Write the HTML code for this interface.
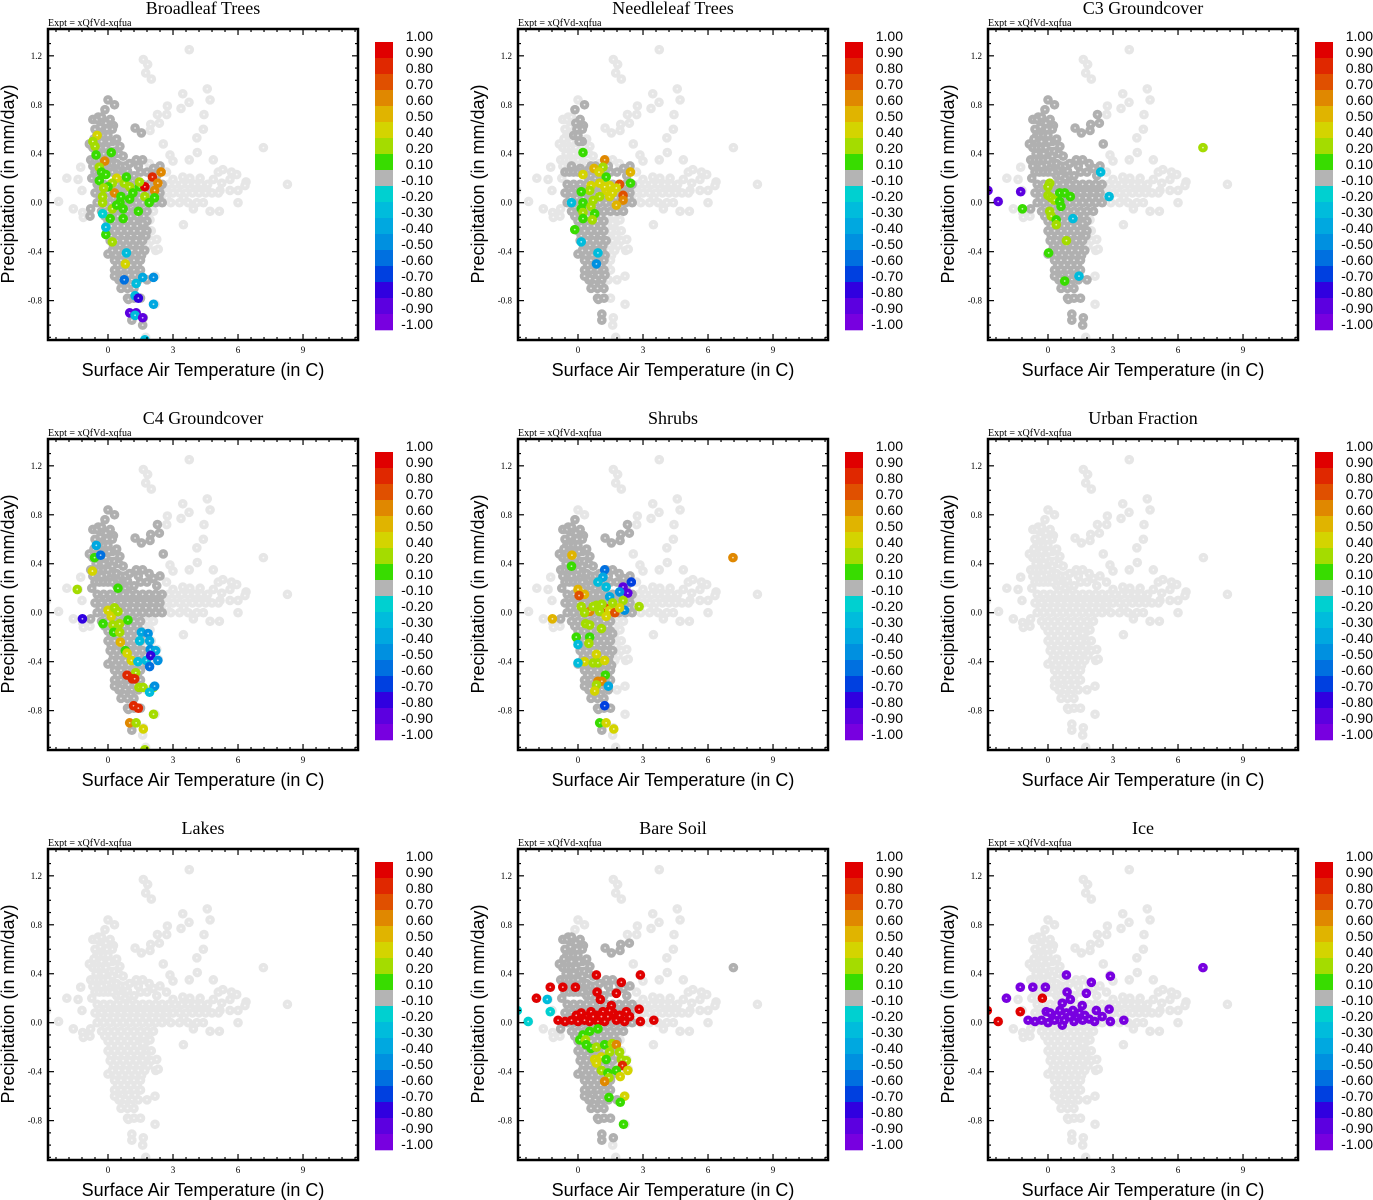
<!DOCTYPE html>
<html><head><meta charset="utf-8">
<style>
html,body{margin:0;padding:0;background:#fff;}
svg{display:block;}
.ttl{font-family:"Liberation Serif",serif;font-size:18px;}
.ex{font-family:"Liberation Serif",serif;font-size:10px;}
.tk{font-family:"Liberation Serif",serif;font-size:9px;}
.ax{font-family:"Liberation Sans",sans-serif;font-size:18px;}
.cb{font-family:"Liberation Sans",sans-serif;font-size:14px;}
</style></head>
<body>
<svg id="fig" width="1373" height="1200" xmlns="http://www.w3.org/2000/svg"></svg>
<script>
// ---- data ----
const panelTitles = ["Broadleaf Trees","Needleleaf Trees","C3 Groundcover","C4 Groundcover","Shrubs","Urban Fraction","Lakes","Bare Soil","Ice"];
const xTicks = [0,3,6,9];
const yTicks = [1.2,0.8,0.4,0.0,-0.4,-0.8];
const yTickLabels = ["1.2","0.8","0.4","0.0","-0.4","-0.8"];
const cbLabels = ["1.00","0.90","0.80","0.70","0.60","0.50","0.40","0.20","0.10","-0.10","-0.20","-0.30","-0.40","-0.50","-0.60","-0.70","-0.80","-0.90","-1.00"];
const cbBounds = [1.0,0.9,0.8,0.7,0.6,0.5,0.4,0.2,0.1,-0.1,-0.2,-0.3,-0.4,-0.5,-0.6,-0.7,-0.8,-0.9,-1.0];
const cbColors = ["#e00000","#e02800","#e05000","#e08800","#e0b400","#d4d400","#a4dc00","#38dc00","#b4b4b4","#00d0d0","#00bcdc","#00a8e0","#0090e0","#0070e0","#0040e0","#3000e0","#5c00e0","#7800e0"];
// base cloud: [temperature, precipitation]
const cloud = [
[3.75,1.25],[1.63,1.17],[1.83,1.13],[1.74,1.06],[2.0,1.01],[3.45,0.89],[3.74,0.82],[3.37,0.77],[4.58,0.93],[4.71,0.84],
[2.74,0.79],[2.71,0.72],[2.28,0.72],[2.37,0.65],[1.97,0.64],[1.94,0.59],[1.54,0.57],[1.25,0.61],[4.43,0.72],[4.4,0.6],
[4.1,0.53],[4.12,0.41],[3.75,0.35],[4.86,0.35],[2.55,0.48],[2.86,0.39],[3.0,0.34],[7.17,0.45],[8.28,0.15],
[3.45,0.21],[3.78,0.2],[4.25,0.2],[5.09,0.25],[5.3,0.27],[5.7,0.25],[5.94,0.23],[6.37,0.17],[6.32,0.14],[5.63,0.19],[5.25,0.16],
[4.86,0.19],[4.55,0.12],[5.17,0.1],[5.63,0.1],[6.0,0.1],[6.0,0.0],[5.14,-0.07],[4.71,-0.07],[3.94,-0.05],[3.48,-0.18],[4.25,0.12],[3.0,0.19],[2.7,0.12],
[-2.83,0.1],[-2.28,0.01],[-1.9,0.2],[-1.6,-0.05],[-1.38,0.19],[-1.26,0.29],[-1.2,0.1],[-1.17,-0.08],[-1.14,-0.12],[-0.8,-0.05],[-0.83,-0.11],[-0.75,0.2],
[0.0,0.84],[0.3,0.8],[-0.14,0.76],[-0.7,0.68],[-0.45,0.7],[0.25,0.63],[-0.52,0.55],[-0.86,0.48],
[-0.5,0.68],[-0.3,0.7],[-0.1,0.65],[0.1,0.68],[0.2,0.6],[-0.6,0.6],[-0.4,0.55],[-0.2,0.55],[0.0,0.55],[0.2,0.5],[0.4,0.52],
[-0.35,0.62],[-0.05,0.6],[-0.65,0.52],[-0.3,0.5],[0.05,0.5],[-0.55,0.4],[-0.2,0.4],[0.2,0.38],[0.55,0.46],[-0.7,0.3],[-0.3,0.3],[0.1,0.28],[0.5,0.27],[0.9,0.26],[1.4,0.3],[2.25,0.22],[1.9,0.32],
[-0.7,0.45],[-0.5,0.45],[-0.3,0.45],[-0.1,0.45],[0.1,0.42],[0.3,0.42],[0.5,0.4],[0.7,0.38],[-0.8,0.35],[-0.6,0.35],[-0.4,0.35],
[-0.2,0.35],[0.0,0.35],[0.2,0.32],[0.4,0.32],[0.6,0.3],[0.8,0.3],[1.0,0.32],[1.3,0.35],[1.6,0.35],[-0.6,0.25],[-0.4,0.25],
[-0.2,0.25],[0.0,0.25],[0.2,0.25],[0.4,0.22],[0.6,0.22],[0.8,0.2],[1.0,0.22],[1.2,0.22],[1.5,0.25],[1.8,0.25],[2.1,0.28],[2.4,0.3],[2.7,0.25],
[-0.5,0.15],[-0.2,0.15],[0.1,0.15],[0.4,0.15],[0.7,0.15],[1.0,0.15],[1.3,0.15],[1.6,0.15],[1.9,0.15],[2.2,0.15],[2.5,0.15],[2.8,0.15],[3.1,0.15],[3.4,0.15],[3.7,0.15],[4.0,0.15],[4.3,0.15],[4.6,0.15],
[-0.4,0.11],[-0.1,0.11],[0.25,0.11],[0.55,0.11],[0.85,0.11],[1.15,0.11],[1.45,0.11],[1.75,0.11],[2.05,0.11],[2.35,0.11],[2.65,0.11],[3.2,0.11],[3.8,0.11],
[-0.6,0.08],[-0.3,0.08],[0.0,0.08],[0.3,0.08],[0.6,0.08],[0.9,0.08],[1.2,0.08],[1.5,0.08],[1.8,0.08],[2.1,0.08],[2.4,0.08],[2.7,0.08],[3.0,0.08],[3.3,0.08],[3.6,0.08],[3.9,0.08],[4.2,0.08],[4.5,0.08],[4.8,0.08],[5.1,0.08],
[-0.35,0.04],[-0.05,0.04],[0.25,0.04],[0.55,0.04],[0.85,0.04],[1.15,0.04],[1.45,0.04],[1.75,0.04],[2.05,0.04],[2.35,0.04],[2.7,0.04],[3.5,0.04],
[-0.5,0.0],[-0.2,0.0],[0.1,0.0],[0.4,0.0],[0.7,0.0],[1.0,0.0],[1.3,0.0],[1.6,0.0],[1.9,0.0],[2.2,0.0],[2.5,0.0],[2.9,0.0],[3.3,0.0],[3.7,0.0],[4.1,0.0],[4.4,0.0],
[-0.3,-0.07],[0.0,-0.07],[0.3,-0.07],[0.6,-0.07],[0.9,-0.07],[1.2,-0.07],[1.5,-0.07],[1.8,-0.07],[2.1,-0.07],
[-0.15,-0.11],[0.15,-0.11],[0.45,-0.11],[0.75,-0.11],[1.05,-0.11],[1.35,-0.11],[1.65,-0.11],
[0.0,-0.15],[0.3,-0.15],[0.6,-0.15],[0.9,-0.15],[1.2,-0.15],[1.5,-0.15],[1.8,-0.15],
[0.15,-0.19],[0.45,-0.19],[0.75,-0.19],[1.05,-0.19],[1.35,-0.19],[1.65,-0.19],
[0.0,-0.23],[0.3,-0.23],[0.6,-0.23],[0.9,-0.23],[1.2,-0.23],[1.5,-0.23],[1.8,-0.23],[2.0,-0.23],
[0.15,-0.27],[0.45,-0.27],[0.75,-0.27],[1.05,-0.27],[1.35,-0.27],[1.75,-0.27],
[0.1,-0.31],[0.4,-0.31],[0.7,-0.31],[1.0,-0.31],[1.3,-0.31],[1.6,-0.31],[2.0,-0.31],
[0.25,-0.35],[0.55,-0.35],[0.85,-0.35],[1.15,-0.35],[1.45,-0.35],[1.85,-0.35],
[0.2,-0.39],[0.5,-0.39],[0.8,-0.39],[1.1,-0.39],[1.4,-0.39],[1.7,-0.39],[2.2,-0.39],
[0.35,-0.43],[0.65,-0.43],[0.95,-0.43],[1.25,-0.43],[1.55,-0.43],
[0.3,-0.47],[0.6,-0.47],[0.9,-0.47],[1.2,-0.47],[1.5,-0.47],
[0.45,-0.51],[0.75,-0.51],[1.05,-0.51],[1.35,-0.51],
[0.3,-0.55],[0.6,-0.55],[0.9,-0.55],[1.2,-0.55],[1.5,-0.55],
[0.65,-0.59],[0.95,-0.59],[1.25,-0.59],
[0.5,-0.63],[0.8,-0.63],[1.1,-0.63],[1.4,-0.63],[1.8,-0.63],[0.75,-0.67],[1.05,-0.67],[0.6,-0.7],[0.9,-0.7],[1.2,-0.7],[0.9,-0.78],[1.2,-0.78],[1.5,-0.78],
[0.0,-0.42],[0.3,-0.6],[0.55,-0.62],[0.94,-0.79],[1.1,-0.91],[1.1,-0.96],[1.63,-0.94],[1.6,-1.0],[1.74,-1.1],[2.17,-0.83],[2.17,-0.6],[2.32,-0.38],[2.25,-0.3],[1.94,-0.14],[1.6,-0.17]
];
// near-zero regions per panel: [tmin,tmax,pmin,pmax]
const darkBoxes = [
 [[-0.9,1.8,-1.0,0.86],[1.8,2.6,-0.06,0.3]],
 [[-0.6,2.6,-0.1,0.3],[-0.3,1.3,-0.97,-0.1],[-0.2,0.3,0.5,0.82]],
 [[-0.9,2.6,-0.1,0.86],[-0.2,1.8,-1.0,-0.1]],
 [[-0.9,2.6,-0.06,0.86],[-0.3,1.6,-0.97,-0.06]],
 [[-0.9,2.5,-0.06,0.78],[-0.3,1.6,-0.97,-0.06]],
 [],
 [],
 [[-0.9,2.5,-0.1,0.7],[-0.3,1.8,-0.97,-0.1],[7.0,7.3,0.4,0.5]],
 []
];
// coloured points per panel: [temperature, precipitation, value]
const pts1 = [[-0.5,0.55,0.45],[-0.7,0.5,0.3],[-0.6,0.46,0.2],[0.15,0.41,0.1],[-0.55,0.39,0.15],[-0.15,0.34,0.6],[-0.4,0.29,0.2],[-0.3,0.25,0.15],[0.4,0.2,0.45],[-0.1,0.23,0.1],[0.2,0.16,0.3],[0.75,0.16,0.35],[1.0,0.13,0.2],[1.45,0.13,0.15],[1.7,0.13,0.9],[2.05,0.21,0.85],[2.45,0.25,0.65],[2.3,0.16,0.6],[2.15,0.1,0.65],[0.3,0.08,0.6],[-0.25,0.05,0.3],[-0.25,0.0,0.3],[0.6,0.05,0.15],[1.15,0.08,0.15],[1.7,0.05,0.3],[2.15,0.04,0.15],[1.9,0.0,0.1],[0.2,-0.05,0.35],[0.7,-0.05,0.15],[0.1,-0.13,0.1],[0.7,-0.13,0.1],[1.4,-0.07,0.15],[-0.1,-0.26,0.1],[0.2,-0.32,0.3],[0.8,-0.5,0.45],[0.75,-0.63,-0.6],[1.3,-0.66,-0.3],[1.6,-0.61,-0.35],[2.1,-0.61,-0.5],[1.25,-0.76,-0.3],[1.4,-0.78,-0.8],[2.1,-0.83,-0.35],[1.0,-0.9,-0.85],[1.3,-0.9,-0.85],[1.25,-0.92,-0.3],[1.6,-0.94,-0.9],[1.7,-1.12,-0.3],[-0.25,-0.09,-0.2],[-0.1,-0.2,-0.25],[0.85,-0.41,-0.25],[-0.4,0.18,0.15],[0.0,0.13,0.15],[0.55,0.0,0.15],[-0.2,0.12,0.35],[0.85,0.21,0.15],[1.45,0.17,0.2],[0.4,-0.02,0.15],[1.0,0.03,0.15]];
const pts2 = [[0.23,0.41,0.15],[1.23,0.35,0.65],[1.15,0.29,0.2],[0.74,0.28,0.55],[0.97,0.25,0.45],[0.23,0.23,0.45],[1.3,0.21,0.15],[2.42,0.25,0.55],[1.92,0.15,0.7],[2.42,0.16,0.15],[1.46,0.14,0.4],[1.0,0.16,0.45],[0.6,0.14,0.4],[0.54,0.1,0.25],[1.3,0.1,0.45],[1.77,0.12,0.45],[2.08,0.06,0.7],[2.08,0.02,0.6],[1.77,-0.02,0.5],[1.46,0.05,0.45],[1.0,0.05,0.35],[0.7,0.02,0.2],[0.15,0.09,0.15],[0.23,0.0,0.1],[0.15,-0.05,0.15],[0.6,-0.03,0.2],[0.77,-0.09,0.15],[0.23,-0.08,0.3],[0.23,-0.13,0.15],[0.66,-0.14,0.25],[-0.15,-0.22,0.15],[-0.3,0.0,-0.25],[0.92,-0.41,-0.25],[0.85,-0.5,-0.5],[0.15,-0.32,-0.3],[1.6,0.08,0.4],[1.23,0.13,0.4]];
const pts3 = [[-2.77,0.1,-0.9],[-2.3,0.01,-0.9],[-1.26,0.09,-0.9],[-1.18,-0.05,0.15],[7.15,0.45,0.25],[2.82,0.05,-0.3],[0.08,0.16,0.25],[0.0,0.13,0.3],[0.0,0.06,0.25],[0.54,0.08,0.15],[0.77,0.08,0.15],[1.03,0.05,0.15],[0.15,0.04,0.3],[0.3,0.02,0.25],[0.54,0.01,0.15],[0.6,-0.03,0.1],[0.08,-0.07,0.25],[0.15,-0.11,0.3],[0.38,-0.14,0.15],[0.38,-0.18,0.25],[0.85,-0.31,0.3],[0.03,-0.41,0.1],[0.77,-0.64,0.1],[1.43,-0.6,-0.3],[2.43,0.25,-0.3],[1.15,-0.13,-0.3]];
const pts4 = [[-1.42,0.19,0.25],[-1.18,-0.05,-0.75],[-0.62,0.45,0.15],[-0.34,0.47,-0.6],[-0.54,0.55,-0.4],[-0.72,0.34,0.45],[0.46,0.2,0.15],[-0.23,-0.09,0.15],[0.0,0.02,0.45],[0.15,-0.03,0.45],[0.3,0.04,0.2],[0.46,0.01,0.2],[0.54,-0.09,0.3],[0.23,-0.1,0.3],[0.26,-0.16,0.15],[0.54,-0.16,0.3],[0.92,-0.06,0.15],[0.57,-0.24,0.5],[0.8,-0.31,0.15],[0.88,-0.33,0.45],[1.08,-0.39,0.4],[1.28,-0.49,0.2],[0.88,-0.51,0.8],[1.12,-0.54,0.8],[1.23,-0.54,0.8],[1.43,-0.61,0.2],[1.62,-0.61,0.2],[2.1,-0.61,0.3],[2.15,-0.6,-0.5],[1.92,-0.65,-0.3],[1.54,-0.16,-0.35],[1.85,-0.17,-0.45],[1.46,-0.23,-0.3],[1.92,-0.23,-0.4],[1.95,-0.3,-0.5],[2.2,-0.31,-0.4],[1.77,-0.39,-0.3],[1.97,-0.35,-0.8],[2.3,-0.39,-0.5],[1.92,-0.44,-0.55],[1.38,-0.4,-0.25],[1.18,-0.76,0.8],[1.4,-0.78,0.8],[2.1,-0.83,0.25],[1.0,-0.9,0.6],[1.3,-0.9,0.2],[1.63,-0.95,0.4],[1.7,-1.12,0.25]];
const pts5 = [[7.15,0.45,0.6],[-1.18,-0.05,0.55],[-0.28,0.47,0.55],[-0.3,0.38,0.15],[1.23,0.35,-0.6],[1.15,0.29,-0.35],[0.92,0.25,-0.3],[1.3,0.21,-0.3],[2.46,0.25,-0.7],[2.08,0.21,-0.85],[2.3,0.16,-0.9],[1.92,0.17,-0.45],[1.46,0.13,-0.35],[2.15,0.02,-0.5],[2.08,0.1,0.2],[2.82,0.05,0.25],[0.0,0.19,0.55],[0.3,0.15,0.55],[0.05,0.14,0.75],[0.15,0.05,0.2],[0.54,0.01,0.6],[0.85,0.06,0.2],[1.23,0.04,0.75],[1.46,0.02,0.45],[1.7,0.0,0.75],[1.92,0.04,0.4],[1.0,0.01,0.25],[0.3,0.0,0.2],[1.3,-0.03,0.4],[0.35,-0.09,0.2],[0.54,-0.1,0.25],[1.08,-0.13,0.2],[-0.08,-0.2,0.15],[0.54,-0.2,0.15],[0.5,-0.25,0.2],[0.0,-0.26,-0.25],[0.85,-0.34,0.45],[0.3,-0.4,0.45],[0.7,-0.41,0.3],[0.92,-0.41,0.2],[1.23,-0.39,0.45],[0.0,-0.41,-0.3],[1.26,-0.51,0.15],[0.92,-0.56,0.6],[1.1,-0.56,0.6],[0.85,-0.59,0.2],[0.77,-0.64,0.45],[1.4,-0.6,-0.35],[1.23,-0.76,-0.7],[1.0,-0.9,0.15],[1.3,-0.9,0.45],[1.65,-0.95,0.45],[0.7,0.05,0.2],[1.1,0.07,0.3],[1.6,0.08,0.25]];
const pts6 = [];
const pts7 = [];
const pts8 = [[0.85,0.39,1],[2.88,0.39,1],[2.0,0.33,1],[-0.7,0.29,1],[-0.12,0.29,1],[-1.28,0.29,1],[0.88,0.25,1],[1.77,0.24,1],[-1.92,0.2,1],[1.03,0.19,1],[1.54,0.14,1],[-0.92,0.02,1],[-0.6,0.01,1],[-0.3,0.02,1],[-0.08,0.06,1],[0.15,0.08,1],[0.38,0.05,1],[0.6,0.09,1],[0.85,0.06,1],[1.15,0.09,1],[1.38,0.05,1],[1.62,0.08,1],[1.77,0.02,1],[2.23,0.09,1],[2.15,0.01,1],[2.38,0.05,1],[2.82,0.11,1],[2.88,0.01,1],[3.5,0.02,1],[1.23,0.01,1],[0.92,0.01,1],[0.54,0.01,1],[0.3,0.02,1],[1.46,0.1,1],[1.92,0.06,1],[0.0,0.01,1],[0.7,0.05,1],[1.08,0.05,1],
[-1.42,0.19,-0.25],[-1.28,0.09,-0.2],[-2.8,0.1,-0.2],[-2.3,0.01,-0.2],
[0.92,-0.05,0.15],[0.54,-0.07,0.15],[0.23,-0.1,0.15],[0.08,-0.14,0.15],[0.35,-0.14,0.25],[0.38,-0.18,0.15],[0.6,-0.21,0.15],[0.85,-0.2,0.3],[1.23,-0.18,0.15],[1.58,-0.17,0.25],[1.77,-0.18,0.6],[1.46,-0.24,0.3],[1.92,-0.24,0.35],[0.77,-0.3,0.45],[1.08,-0.28,0.45],[1.3,-0.3,0.15],[0.85,-0.33,0.45],[2.0,-0.3,0.35],[2.23,-0.31,0.3],[2.05,-0.35,0.8],[2.3,-0.39,0.4],[1.77,-0.39,0.15],[1.08,-0.39,0.25],[1.38,-0.41,0.15],[1.95,-0.44,0.45],[1.43,-0.45,0.3],[1.23,-0.48,0.65],[1.43,-0.61,0.15],[2.15,-0.6,0.4],[1.95,-0.65,0.15],[2.1,-0.83,0.15]];
const pts9 = [[0.85,0.39,-1],[2.88,0.38,-1],[2.0,0.33,-1],[-0.7,0.29,-1],[-0.12,0.29,-1],[-1.28,0.29,-1],[0.88,0.25,-1],[1.77,0.24,-1],[-1.92,0.2,-1],[1.03,0.19,-1],[7.15,0.45,-1],[-0.92,0.02,-1],[-0.6,0.01,-1],[-0.3,0.02,-1],[-0.08,0.09,-1],[0.0,0.0,-1],[0.23,0.05,-1],[0.66,0.16,-1],[0.66,-0.02,-1],[0.85,0.08,-1],[1.58,0.14,-1],[2.23,0.1,-1],[2.15,0.01,-1],[2.82,0.11,-1],[2.88,0.01,-1],[3.5,0.02,-1],[0.4,0.06,-1],[0.55,0.1,-1],[1.0,0.05,-1],[1.15,0.1,-1],[1.3,0.04,-1],[1.45,0.08,-1],[1.7,0.06,-1],[1.9,0.03,-1],[2.5,0.05,-1],[0.3,0.02,-1],[0.75,0.02,-1],[1.2,0.01,-1],[1.6,0.02,-1],[0.1,0.08,-1],
[-0.26,0.2,1],[-1.28,0.09,1],[-2.8,0.1,1],[-2.3,0.01,1]];
const panelPts = [pts1,pts2,pts3,pts4,pts5,pts6,pts7,pts8,pts9];

// ---- geometry ----
const NS="http://www.w3.org/2000/svg";
const svg=document.getElementById('fig');
const PL=48,PR=358,PT=29,PB=340;
const X0=108, XS=21.67, Y0=202.7, YS=122.4;
function xs(t){return X0+t*XS;}
function ys(p){return Y0-p*YS;}
function mk(tag,attrs,parent){const e=document.createElementNS(NS,tag);for(const k in attrs)e.setAttribute(k,attrs[k]);(parent||svg).appendChild(e);return e;}
function colorOf(v){for(let i=0;i<cbColors.length;i++){if(v>=cbBounds[i+1])return cbColors[i];}return cbColors[cbColors.length-1];}
function inBoxes(pt,boxes){return boxes.some(b=>pt[0]>=b[0]&&pt[0]<=b[1]&&pt[1]>=b[2]&&pt[1]<=b[3]);}

for(let i=0;i<9;i++){
  const ox=[0,470,940][i%3], oy=[0,410,820][Math.floor(i/3)];
  const g=mk('g',{transform:`translate(${ox},${oy})`});
  
  
  const t=mk('text',{x:203,y:14,'text-anchor':'middle',class:'ttl'},g);t.textContent=panelTitles[i];
  
  
  const e=mk('text',{x:PL,y:26,class:'ex'},g);e.textContent='Expt = xQfVd-xqfua';
  
  
  const defs=mk('clipPath',{id:'c'+i},g);mk('rect',{x:PL,y:PT,width:PR-PL,height:PB-PT},defs);
  const pg=mk('g',{'clip-path':`url(#c${i})`},g);
  
  
  const boxes=darkBoxes[i];
  const drawPt=(T,P,col,nm)=>{
    const c=mk('circle',{cx:xs(T),cy:ys(P),r:4.8,fill:col},pg);
    
    
    mk('circle',{cx:xs(T),cy:ys(P),r:0.9,fill:'#fff','fill-opacity':0.7},pg);
  };
  cloud.forEach(p=>{if(!inBoxes(p,boxes))drawPt(p[0],p[1],'#e6e6e6','point-absent');});
  cloud.forEach(p=>{if(inBoxes(p,boxes))drawPt(p[0],p[1],'#b0b0b0','point-near-zero');});
  panelPts[i].forEach(p=>drawPt(p[0],p[1],colorOf(p[2]),'point-colored'));
  const fr=mk('rect',{x:PL,y:PT,width:PR-PL,height:PB-PT,fill:'none',stroke:'#000','stroke-width':2.5},g);
  
  
  for(let v=-2.4;v<=11.4;v+=0.6){const x=xs(v);const major=xTicks.some(m=>Math.abs(m-v)<0.01);const L=major?6:3;
    mk('line',{x1:x,x2:x,y1:PB,y2:PB-L,stroke:'#000','stroke-width':1.2},g);mk('line',{x1:x,x2:x,y1:PT,y2:PT+L,stroke:'#000','stroke-width':1.2},g);}
  xTicks.forEach(v=>{const tt=mk('text',{x:xs(v),y:PB+13,'text-anchor':'middle',class:'tk'},g);tt.textContent=String(v);
    
    });
  for(let v=-1.1;v<=1.4;v+=0.1){const y=ys(v);const major=yTicks.some(m=>Math.abs(m-v)<0.01);const L=major?6:3;
    mk('line',{x1:PL,x2:PL+L,y1:y,y2:y,stroke:'#000','stroke-width':1.2},g);mk('line',{x1:PR,x2:PR-L,y1:y,y2:y,stroke:'#000','stroke-width':1.2},g);}
  yTicks.forEach((v,k)=>{const tt=mk('text',{x:PL-6,y:ys(v)+3,'text-anchor':'end',class:'tk'},g);tt.textContent=yTickLabels[k];
    
    });
  const xl=mk('text',{x:203,y:376,'text-anchor':'middle',class:'ax'},g);xl.textContent='Surface Air Temperature (in C)';
  
  
  const yl=mk('text',{x:0,y:0,'text-anchor':'middle',class:'ax',transform:'translate(14,184) rotate(-90)'},g);yl.textContent='Precipitation (in mm/day)';
  
  
  const cb=mk('g',{},g);
  
  
  cbColors.forEach((c,k)=>{mk('rect',{x:375,y:42+k*16,width:18,height:16.3,fill:c},cb);});
  cbLabels.forEach((l,k)=>{const tt=mk('text',{x:433,y:41+k*16,'text-anchor':'end',class:'cb'},cb);tt.textContent=l;
    
    });
}
</script>
</body></html>
